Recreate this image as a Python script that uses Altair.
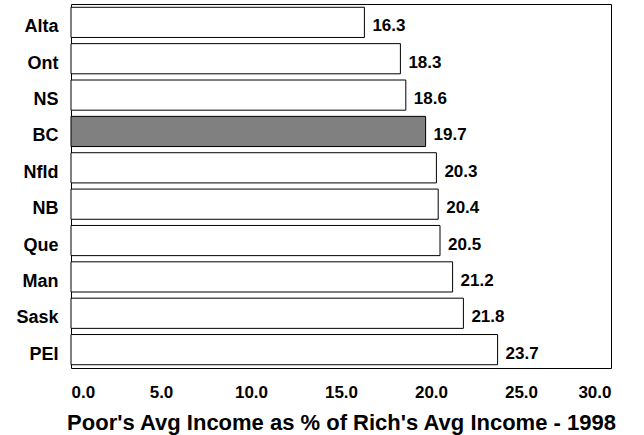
import altair as alt
import pandas as pd

provinces = ["Alta", "Ont", "NS", "BC", "Nfld", "NB", "Que", "Man", "Sask", "PEI"]
values = [16.3, 18.3, 18.6, 19.7, 20.3, 20.4, 20.5, 21.2, 21.8, 23.7]
highlight = ["BC"]
x_ticks = [0, 5, 10, 15, 20, 25, 30]

df = pd.DataFrame({"prov": provinces, "val": values})
df["hl"] = df["prov"].isin(highlight).map({True: "yes", False: "no"})

FONT = "Liberation Sans"

y_enc = alt.Y("prov:N", sort=provinces, title=None,
              scale=alt.Scale(paddingInner=0.17, paddingOuter=0.09),
              axis=alt.Axis(ticks=False, domain=False, labelFont=FONT,
                            labelFontSize=18, labelFontWeight="bold",
                            labelColor="black", labelPadding=13,
                            labelOffset=5))
x_enc = alt.X("val:Q", scale=alt.Scale(domain=[0, 30], nice=False),
              title="Poor's Avg Income as % of Rich's Avg Income - 1998",
              axis=alt.Axis(values=x_ticks, format=".1f", ticks=False,
                            domain=False, grid=False, labelFont=FONT,
                            labelFontSize=17, labelFontWeight="bold",
                            labelColor="black", labelPadding=16,
                            titleFont=FONT, titleFontSize=22,
                            titleFontWeight="bold", titleColor="black",
                            titlePadding=12))

bars = alt.Chart(df).mark_bar(stroke="black", strokeWidth=1).encode(
    x=x_enc,
    y=y_enc,
    fill=alt.Fill("hl:N", scale=alt.Scale(domain=["no", "yes"],
                                           range=["white", "#808080"]),
                  legend=None),
)

labels = alt.Chart(df).mark_text(align="left", baseline="middle", dx=8, dy=4,
                                 font=FONT, fontSize=17, fontWeight="bold",
                                 color="black").encode(
    x="val:Q",
    y=alt.Y("prov:N", sort=provinces),
    text=alt.Text("val:Q", format=".1f"),
)

chart = (bars + labels).properties(
    width=540, height=364,
    autosize=alt.AutoSizeParams(type="none"),
    padding={"left": 71, "top": 4, "right": 33, "bottom": 67},
    background="white",
).configure_view(stroke="black", strokeWidth=1)

chart.save("out.html", embed_options={"renderer": "svg", "actions": False})
